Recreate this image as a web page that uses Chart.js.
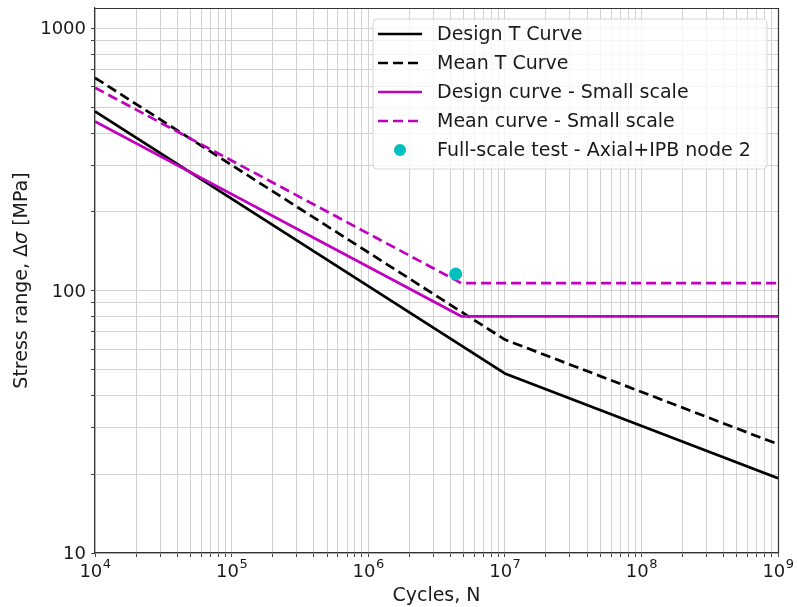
<!DOCTYPE html>
<html>
<head>
<meta charset="utf-8">
<script src="https://cdn.jsdelivr.net/npm/chart.js@4.4.1/dist/chart.umd.min.js"></script>
<style>
  html, body { margin: 0; padding: 0; background: #fff; }
  #wrap { width: 798px; height: 607px; }
</style>
</head>
<body>
<div id="wrap"><canvas id="chart" width="798" height="607"></canvas></div>
<script>
// axis decades and labels
const xDecades = [1e4, 1e5, 1e6, 1e7, 1e8, 1e9];
const xExponents = ["4", "5", "6", "7", "8", "9"];
const yDecades = [10, 100, 1000];
const yTickLabels = ["10", "100", "1000"];
const minorMultiples = [2, 3, 4, 5, 6, 7, 8, 9];

// S-N curves (cycles, stress range in MPa)
const designTCycles = [1e4, 1e7, 1e9];
const designTStress = [484, 48.4, 19.3];
const meanTCycles = [1e4, 1e7, 1e9];
const meanTStress = [650, 65.2, 26.0];
const designSmallCycles = [1e4, 4.8e6, 1e9];
const designSmallStress = [443, 80, 80];
const meanSmallCycles = [1e4, 4.8e6, 1e9];
const meanSmallStress = [596, 107, 107];
const testCycles = [4.37e6];
const testStress = [116];

const FONT = "'DejaVu Sans', sans-serif";
const MAGENTA = "#bf00bf";
const CYAN = "#00bfbf";

function toPoints(xs, ys) {
  return xs.map((x, i) => ({ x, y: ys[i] }));
}

function logTicks(decades, max) {
  const out = [];
  decades.forEach((d) => {
    out.push(d);
    minorMultiples.forEach((m) => {
      if (d * m <= max) out.push(d * m);
    });
  });
  return out.filter((v) => v <= max).map((value) => ({ value }));
}

const lineDataset = (label, xs, ys, color, dashed, order) => ({
  label,
  data: toPoints(xs, ys),
  showLine: true,
  borderColor: color,
  backgroundColor: color,
  borderWidth: 2.7,
  borderDash: dashed ? [10, 5] : [],
  borderCapStyle: "butt",
  borderJoinStyle: "round",
  pointRadius: 0,
  tension: 0,
  order,
});

const datasets = [
  lineDataset("Design T Curve", designTCycles, designTStress, "#000000", false, 5),
  lineDataset("Mean T Curve", meanTCycles, meanTStress, "#000000", true, 4),
  lineDataset("Design curve - Small scale", designSmallCycles, designSmallStress, MAGENTA, false, 3),
  lineDataset("Mean curve - Small scale", meanSmallCycles, meanSmallStress, MAGENTA, true, 2),
  {
    label: "Full-scale test - Axial+IPB node 2",
    data: toPoints(testCycles, testStress),
    showLine: false,
    pointRadius: 6,
    pointBackgroundColor: CYAN,
    pointBorderColor: CYAN,
    backgroundColor: CYAN,
    borderColor: CYAN,
    order: 1,
  },
];

// tick labels, axis titles, frame and legend
const decorations = {
  id: "decorations",
  afterDraw(chart) {
    const { ctx, chartArea, scales } = chart;
    const xs = scales.x, ys = scales.y;
    ctx.save();

    // top and right spines
    ctx.strokeStyle = "#333";
    ctx.lineWidth = 1.2;
    ctx.beginPath();
    ctx.moveTo(chartArea.left, chartArea.top + 0.5);
    ctx.lineTo(chartArea.right + 0.5, chartArea.top + 0.5);
    ctx.lineTo(chartArea.right + 0.5, chartArea.bottom);
    ctx.stroke();

    ctx.fillStyle = "#1a1a1a";

    // x labels as 10^n
    xDecades.forEach((v, i) => {
      const px = xs.getPixelForValue(v);
      ctx.font = "18px " + FONT;
      const wBase = ctx.measureText("10").width;
      ctx.font = "13px " + FONT;
      const wExp = ctx.measureText(xExponents[i]).width;
      const x0 = px - (wBase + wExp) / 2;
      ctx.textAlign = "left";
      ctx.textBaseline = "alphabetic";
      ctx.font = "18px " + FONT;
      ctx.fillText("10", x0, chartArea.bottom + 24);
      ctx.font = "13px " + FONT;
      ctx.fillText(xExponents[i], x0 + wBase + 0.5, chartArea.bottom + 15);
    });

    // y labels
    ctx.font = "18px " + FONT;
    ctx.textAlign = "right";
    ctx.textBaseline = "middle";
    yDecades.forEach((v, i) => {
      ctx.fillText(yTickLabels[i], chartArea.left - 9, ys.getPixelForValue(v) + 1);
    });

    // x title
    ctx.font = "19px " + FONT;
    ctx.textAlign = "center";
    ctx.textBaseline = "middle";
    ctx.fillText("Cycles, N", (chartArea.left + chartArea.right) / 2, chartArea.bottom + 43);

    // y title with italic sigma
    const parts = [
      ["Stress range, \u0394", "19px " + FONT],
      ["\u03c3", "italic 19px " + FONT],
      [" [MPa]", "19px " + FONT],
    ];
    let total = 0;
    parts.forEach(([t, f]) => { ctx.font = f; total += ctx.measureText(t).width; });
    ctx.translate(22, (chartArea.top + chartArea.bottom) / 2);
    ctx.rotate(-Math.PI / 2);
    ctx.textAlign = "left";
    let cx = -total / 2;
    parts.forEach(([t, f]) => {
      ctx.font = f;
      ctx.fillText(t, cx, 0);
      cx += ctx.measureText(t).width;
    });
    ctx.setTransform(1, 0, 0, 1, 0, 0);

    // legend
    const bx = 373, by = 19, bw = 394, bh = 150, r = 4;
    ctx.beginPath();
    ctx.roundRect(bx, by, bw, bh, r);
    ctx.fillStyle = "rgba(255,255,255,0.8)";
    ctx.fill();
    ctx.strokeStyle = "#d6d6d6";
    ctx.lineWidth = 1;
    ctx.stroke();

    chart.data.datasets.forEach((ds, i) => {
      const cy = 34 + i * 29;
      if (ds.showLine) {
        ctx.beginPath();
        ctx.setLineDash(ds.borderDash);
        ctx.lineCap = "butt";
        ctx.strokeStyle = ds.borderColor;
        ctx.lineWidth = ds.borderWidth;
        ctx.moveTo(378, cy);
        ctx.lineTo(422, cy);
        ctx.stroke();
        ctx.setLineDash([]);
      } else {
        ctx.beginPath();
        ctx.fillStyle = ds.pointBackgroundColor;
        ctx.arc(400, cy, ds.pointRadius, 0, Math.PI * 2);
        ctx.fill();
      }
      ctx.fillStyle = "#1a1a1a";
      ctx.font = "19px " + FONT;
      ctx.textAlign = "left";
      ctx.textBaseline = "middle";
      ctx.fillText(ds.label, 437, cy + 1);
    });

    ctx.restore();
  },
};

const gridStyle = {
  color: "#d2d2d2",
  lineWidth: 1,
  tickColor: "#444",
  tickLength: 4,
};

new Chart(document.getElementById("chart"), {
  type: "scatter",
  data: { datasets },
  options: {
    responsive: false,
    animation: false,
    devicePixelRatio: 1,
    layout: { padding: { left: 91, right: 20, top: 8, bottom: 50 } },
    plugins: { legend: { display: false }, tooltip: { enabled: false } },
    scales: {
      x: {
        type: "logarithmic",
        min: 1e4,
        max: 1e9,
        ticks: { display: false, autoSkip: false },
        grid: gridStyle,
        border: { color: "#333", width: 1.2 },
        afterBuildTicks: (scale) => { scale.ticks = logTicks(xDecades, 1e9); },
      },
      y: {
        type: "logarithmic",
        min: 10,
        max: 1200,
        ticks: { display: false, autoSkip: false },
        grid: gridStyle,
        border: { color: "#333", width: 1.2 },
        afterBuildTicks: (scale) => { scale.ticks = logTicks(yDecades, 1200); },
      },
    },
  },
  plugins: [decorations],
});
</script>
</body>
</html>
